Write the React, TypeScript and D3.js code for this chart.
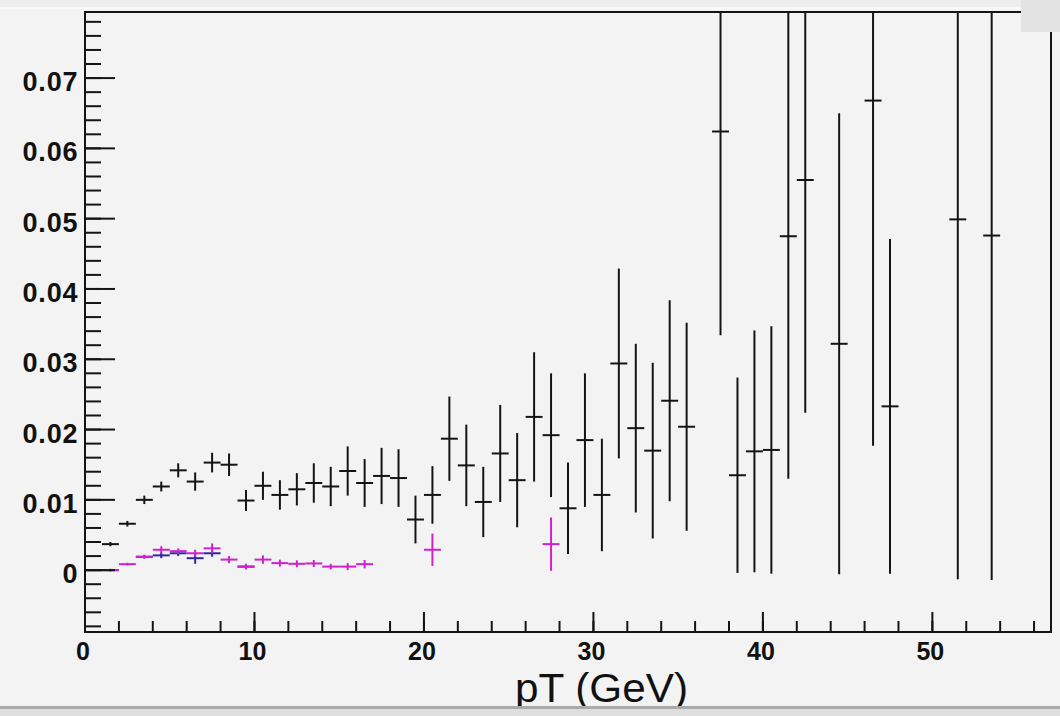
import React from "react";
import * as d3 from "d3";

// ---- data (bin centers in pT GeV, values, symmetric errors) ----
const blackPt = [0.5, 1.5, 2.5, 3.5, 4.5, 5.5, 6.5, 7.5, 8.5, 9.5, 10.5, 11.5, 12.5, 13.5, 14.5, 15.5, 16.5, 17.5, 18.5, 19.5, 20.5, 21.5, 22.5, 23.5, 24.5, 25.5, 26.5, 27.5, 28.5, 29.5, 30.5, 31.5, 32.5, 33.5, 34.5, 35.5, 37.5, 38.5, 39.5, 40.5, 41.5, 42.5, 44.5, 46.5, 47.5, 51.5, 53.5];
const blackVal = [0, 0.0037, 0.0066, 0.0100, 0.0119, 0.0142, 0.0126, 0.0153, 0.0150, 0.0099, 0.0120, 0.0107, 0.0115, 0.0124, 0.0119, 0.0141, 0.0124, 0.0134, 0.0131, 0.0072, 0.0107, 0.0187, 0.0149, 0.0097, 0.0166, 0.0128, 0.0218, 0.0192, 0.0088, 0.0185, 0.0107, 0.0294, 0.0202, 0.0170, 0.0241, 0.0204, 0.0624, 0.0135, 0.0169, 0.0171, 0.0475, 0.0555, 0.0322, 0.0668, 0.0233, 0.0499, 0.0476];
const blackErr = [0, 0.0003, 0.0004, 0.0006, 0.0007, 0.0010, 0.0013, 0.0014, 0.0016, 0.0015, 0.0020, 0.0021, 0.0023, 0.0028, 0.0028, 0.0035, 0.0034, 0.0040, 0.0041, 0.0034, 0.0041, 0.0060, 0.0058, 0.0050, 0.0069, 0.0067, 0.0092, 0.0088, 0.0065, 0.0095, 0.0080, 0.0135, 0.0120, 0.0125, 0.0143, 0.0148, 0.0290, 0.0139, 0.0172, 0.0176, 0.0345, 0.0331, 0.0328, 0.0491, 0.0238, 0.0512, 0.0490];

const bluePt = [0.5, 1.5, 3.5, 4.5, 5.5, 6.5, 7.5, 9.5];
const blueVal = [0, 0, 0.0019, 0.0021, 0.0024, 0.0017, 0.0024, 0.0005];
const blueErr = [0, 0, 0.0002, 0.0004, 0.0004, 0.0008, 0.0005, 0.0002];

const magentaPt = [1.5, 2.5, 3.5, 4.5, 5.5, 6.5, 7.5, 8.5, 9.5, 10.5, 11.5, 12.5, 13.5, 14.5, 15.5, 16.5, 20.5, 27.5];
const magentaVal = [0, 0.00085, 0.0019, 0.0029, 0.0027, 0.0024, 0.0031, 0.0015, 0.0005, 0.0015, 0.0010, 0.0009, 0.00095, 0.0005, 0.0005, 0.00085, 0.0029, 0.0037];
const magentaErr = [0.0002, 0.0002, 0.0003, 0.0005, 0.0004, 0.0005, 0.0007, 0.0005, 0.0004, 0.0006, 0.0005, 0.0005, 0.0005, 0.0004, 0.0005, 0.0006, 0.0023, 0.0038];

const binWidth = 1;
const xTickLabels = ["0", "10", "20", "30", "40", "50"];
const xTickValues = [0, 10, 20, 30, 40, 50];
const yTickLabels = ["0", "0.01", "0.02", "0.03", "0.04", "0.05", "0.06", "0.07"];
const yTickValues = [0, 0.01, 0.02, 0.03, 0.04, 0.05, 0.06, 0.07];
const xTitle = "pT (GeV)";

const W = 1060;
const H = 716;
const L = 85, R = 1051, T = 12, B = 632;

export default function App() {
  const x = d3.scaleLinear().domain([0, 57]).range([L, R]);
  const y = d3.scaleLinear().domain([-0.0088, 0.0794]).range([B, T]);

  const xMinor = d3.range(0, 57, 2);
  const yMinor = d3.range(-0.008, 0.0794, 0.002);

  const series = [
    { pt: blackPt, val: blackVal, err: blackErr, color: "#141414" },
    { pt: bluePt, val: blueVal, err: blueErr, color: "#2b2b9c" },
    { pt: magentaPt, val: magentaVal, err: magentaErr, color: "#cf22cf" },
  ];

  const font = "'Liberation Sans', Arial, Helvetica, sans-serif";

  return (
    <svg width={W} height={H} style={{ position: "absolute", left: 0, top: 0 }}>
      <defs>
        <clipPath id="frameClip">
          <rect x={L} y={T} width={R - L} height={B - T} />
        </clipPath>
      </defs>
      <rect x={0} y={0} width={W} height={H} fill="#f3f3f3" />
      <rect x={0} y={0} width={W} height={7} fill="#eeeeee" />
      <line x1={0} x2={W} y1={8} y2={8} stroke="#fbfbfb" strokeWidth={1.5} />

      {/* data */}
      <g clipPath="url(#frameClip)">
        {series.map((s, si) => (
          <g key={si} stroke={s.color} strokeWidth={2} fill="none">
            {s.pt.map((p, i) => (
              <g key={i}>
                <line x1={x(p - binWidth / 2)} x2={x(p + binWidth / 2)} y1={y(s.val[i])} y2={y(s.val[i])} />
                {s.err[i] > 0 && (
                  <line x1={x(p)} x2={x(p)} y1={y(s.val[i] - s.err[i])} y2={y(s.val[i] + s.err[i])} />
                )}
              </g>
            ))}
          </g>
        ))}
      </g>

      {/* frame */}
      <g stroke="#141414" strokeWidth={2} fill="none">
        <line x1={L} x2={L} y1={T} y2={B + 1} />
        <line x1={L - 1} x2={R + 1} y1={B} y2={B} />
        <line x1={L - 1} x2={R + 1} y1={T} y2={T} />
        <line x1={R} x2={R} y1={T} y2={B + 1} />
      </g>

      {/* y ticks */}
      <g stroke="#141414" strokeWidth={2}>
        {yMinor.map((v, i) => (
          <line key={i} x1={L} x2={L + 16} y1={y(v)} y2={y(v)} />
        ))}
        {yTickValues.map((v, i) => (
          <line key={i} x1={L} x2={L + 30} y1={y(v)} y2={y(v)} />
        ))}
      </g>
      {/* x ticks */}
      <g stroke="#141414" strokeWidth={2}>
        {xMinor.map((v, i) => (
          <line key={i} x1={x(v)} x2={x(v)} y1={B} y2={B - 11} />
        ))}
        {xTickValues.map((v, i) => (
          <line key={i} x1={x(v)} x2={x(v)} y1={B} y2={B - 20} />
        ))}
      </g>

      {/* labels */}
      <g fontFamily={font} fontWeight="bold" fill="#111">
        {yTickValues.map((v, i) => (
          <text
            key={i}
            x={77.5}
            y={y(v) + 13}
            fontSize={27}
            textAnchor="end"
            {...(yTickLabels[i].length > 1 ? { textLength: 55, lengthAdjust: "spacing" } : {})}
          >
            {yTickLabels[i]}
          </text>
        ))}
        {xTickValues.map((v, i) => (
          <text key={i} x={x(v) - 2} y={660} fontSize={25} textAnchor="middle">
            {xTickLabels[i]}
          </text>
        ))}
      </g>
      <text x={515} y={701.5} fontFamily={font} fontSize={40} fill="#111" textLength={173} lengthAdjust="spacingAndGlyphs">
        {xTitle}
      </text>

      {/* top-right box and bottom bar */}
      <rect x={1021} y={0} width={39} height={32} fill="#e3e3e3" />
      <rect x={0} y={706} width={W} height={3} fill="#a9a9a9" />
      <rect x={0} y={709} width={W} height={7} fill="#dedede" />
    </svg>
  );
}
